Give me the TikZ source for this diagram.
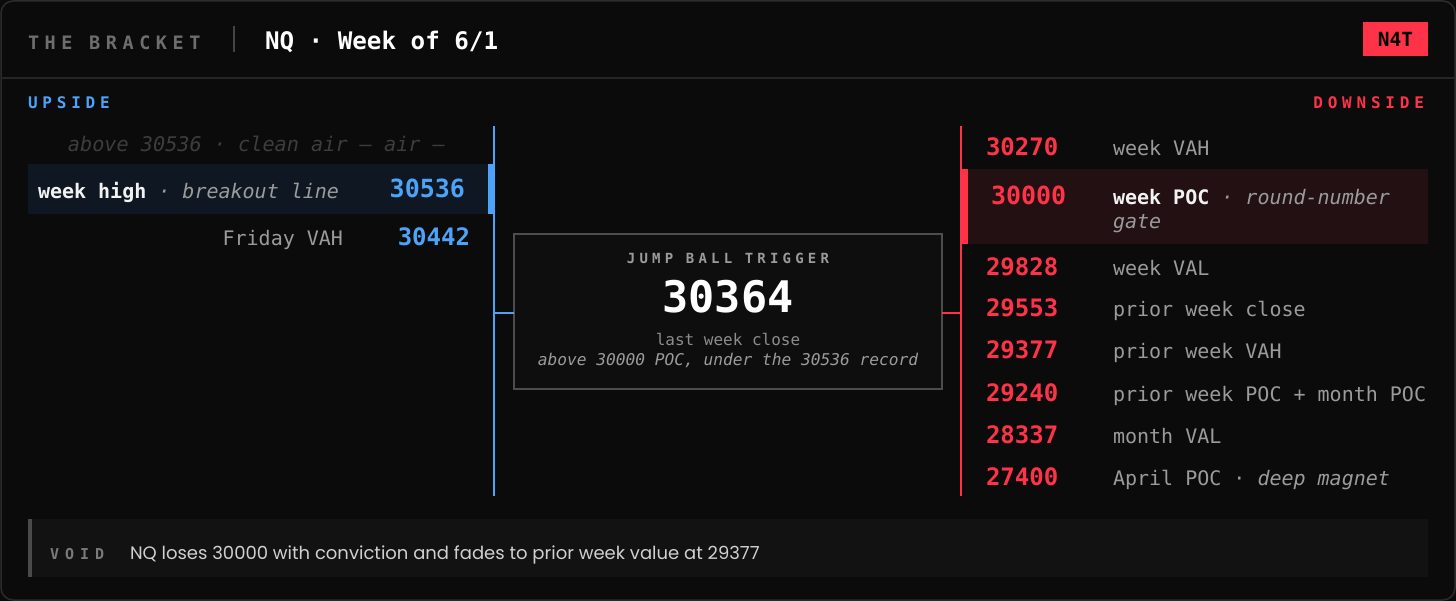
\documentclass[tikz,border=0pt]{standalone}
\usepackage{fontspec}
\setmainfont{DejaVu Sans Mono}
\newfontfamily\mono{DejaVu Sans Mono}
\newfontfamily\voidf{Poppins}
\newcommand\fsz[1]{\fontsize{#1}{#1}\selectfont}
\newcommand\trk[1]{\addfontfeature{LetterSpace=#1}}
\definecolor{bgc}{HTML}{0B0B0B}
\definecolor{framec}{HTML}{2C2C2C}
\definecolor{hdrline}{HTML}{262626}
\definecolor{titlegray}{HTML}{6E6E6E}
\definecolor{divc}{HTML}{444444}
\definecolor{bluec}{HTML}{4DA3F7}
\definecolor{redc}{HTML}{FF3347}
\definecolor{dimc}{HTML}{3D3D3D}
\definecolor{navyc}{HTML}{0F1822}
\definecolor{maroonc}{HTML}{221012}
\definecolor{greyc}{HTML}{9B9B9B}
\definecolor{whitec}{HTML}{F2F2F2}
\definecolor{boxline}{HTML}{4D4D4D}
\definecolor{boxfill}{HTML}{0E0E0E}
\definecolor{voidbg}{HTML}{121212}
\definecolor{voidbar}{HTML}{4A4A4A}
\definecolor{voidlab}{HTML}{7A7A7A}
\definecolor{voidtxt}{HTML}{D0D0D0}
\begin{document}
\begin{tikzpicture}[x=1pt,y=-1pt,
  every node/.style={inner sep=0pt,outer sep=0pt},
  lbl/.style={anchor=base west,text=greyc,font=\mono\fsz{20}},
  rlbl/.style={anchor=base east,text=greyc,font=\mono\fsz{20}},
  itl/.style={anchor=base west,text=greyc,font=\mono\itshape\fsz{20}},
  upnum/.style={anchor=base east,text=bluec,font=\mono\bfseries\fsz{24}},
  dnnum/.style={anchor=base west,text=redc,font=\mono\bfseries\fsz{24}},
  spine/.style={line width=1.5pt},
]
\useasboundingbox (0,0) rectangle (1456,601);
\fill[bgc] (0,0) rectangle (1456,601);
\draw[framec,line width=1.5pt,rounded corners=12pt] (1,1) rectangle (1455,600);
\coordinate (hl) at (1,78);
\coordinate (hr) at (1455,78);
\draw[hdrline,line width=1.2pt] (hl) -- (hr);

% header
\node[anchor=base west,text=titlegray,font=\mono\bfseries\fsz{18.5}\trk{30}] (brand) at (28,50) {THE BRACKET};
\coordinate (dvt) at (234,26);
\coordinate (dvb) at (234,52);
\draw[divc,line width=1.5pt] (dvt) -- (dvb);
\node[anchor=base west,text=white,font=\mono\bfseries\fsz{24.2}] (title) at (265,50) {NQ · Week of 6/1};
\node[fill=redc,minimum width=65pt,minimum height=34pt,text=black,font=\mono\bfseries\fsz{19.5}] (badge) at (1395.5,39) {N4T};

% side labels
\node[anchor=base west,text=bluec,font=\mono\bfseries\fsz{16}\trk{30}] (up) at (28,109) {UPSIDE};
\node[anchor=base east,text=redc,font=\mono\bfseries\fsz{16}\trk{30}] (down) at (1424,109) {DOWNSIDE};

% upside column
\fill[navyc] (28,164) rectangle (488,214);
\fill[bluec] (488,164) rectangle (494,214);
\coordinate (ltop) at (494,126);
\coordinate (lbot) at (494,496);
\draw[bluec,spine] (ltop) -- (lbot);
\node[rlbl,text=dimc,font=\mono\itshape\fsz{20.2}] (air) at (445,152) {above 30536 · clean air — air —};
\node[anchor=base west,text=whitec,font=\mono\bfseries\fsz{20}] (wh) at (38,199) {week high};
\node[itl] (whi) at (wh.base east) {\ · breakout line};
\node[upnum,font=\mono\bfseries\fsz{25}] (n30536) at (465,198) {30536};
\node[rlbl] (fv) at (343,246) {Friday VAH};
\node[upnum] (n30442) at (470,246) {30442};

% trigger box
\node[draw=boxline,fill=boxfill,line width=1.5pt,minimum width=428pt,minimum height=155pt] (box) at (728,311.5) {};
\node[anchor=base,text=greyc,font=\mono\bfseries\fsz{14}\trk{30}] (jb) at (728,264) {JUMP BALL TRIGGER};
\node[anchor=base,text=white,font=\mono\bfseries\fsz{43.5}] (big) at (728,313) {30364};
\node[anchor=base,text=greyc!115,font=\mono\fsz{16}] (lwc) at (728,345) {last week close};
\node[anchor=base,text=greyc,font=\mono\itshape\fsz{16.2}] (abv) at (728,366) {above 30000 POC, under the 30536 record};
\coordinate (tl) at (494,313);
\draw[bluec,spine] (tl) -- (tl -| box.west);

% downside column
\coordinate (rtop) at (961,126);
\coordinate (rbot) at (961,496);
\fill[maroonc] (962,169) rectangle (1428,244);
\draw[redc,spine] (rtop) -- (rbot);
\fill[redc] (961.5,169) rectangle (968,244);
\coordinate (tr) at (961,313);
\draw[redc,spine] (tr -| box.east) -- (tr);

\node[dnnum] (d1) at (986,156) {30270};
\node[lbl] (l1) at (1113,156) {week VAH};
\node[dnnum,font=\mono\bfseries\fsz{25}] (d2) at (991,205) {30000};
\node[anchor=base west,text=whitec,font=\mono\bfseries\fsz{20}] (l2) at (1113,205) {week POC};
\node[itl] (l2b) at (l2.base east) {\ · round-number};
\node[itl] (l2c) at (1113,229) {gate};
\node[dnnum] (d3) at (986,276) {29828};
\node[lbl] (l3) at (1113,276) {week VAL};
\node[dnnum] (d4) at (986,317) {29553};
\node[lbl] (l4) at (1113,317) {prior week close};
\node[dnnum] (d5) at (986,359) {29377};
\node[lbl] (l5) at (1113,359) {prior week VAH};
\node[dnnum] (d6) at (986,401) {29240};
\node[lbl] (l6) at (1113,401) {prior week POC + month POC};
\node[dnnum] (d7) at (986,443) {28337};
\node[lbl] (l7) at (1113,443) {month VAL};
\node[dnnum] (d8) at (986,485) {27400};
\node[lbl] (l8) at (1113,485) {April POC ·};
\node[itl] (l8b) at (l8.base east) {\ deep magnet};

% void
\fill[voidbg] (28,519) rectangle (1428,577);
\fill[voidbar] (28,519) rectangle (31.5,577);
\node[anchor=base west,text=voidlab,font=\mono\bfseries\fsz{15}\trk{40}] (vd) at (50,559) {VOID};
\node[anchor=base west,text=voidtxt,font=\voidf\fsz{18}] (vt) at (130,559) {NQ loses 30000 with conviction and fades to prior week value at 29377};
\end{tikzpicture}
\end{document}
